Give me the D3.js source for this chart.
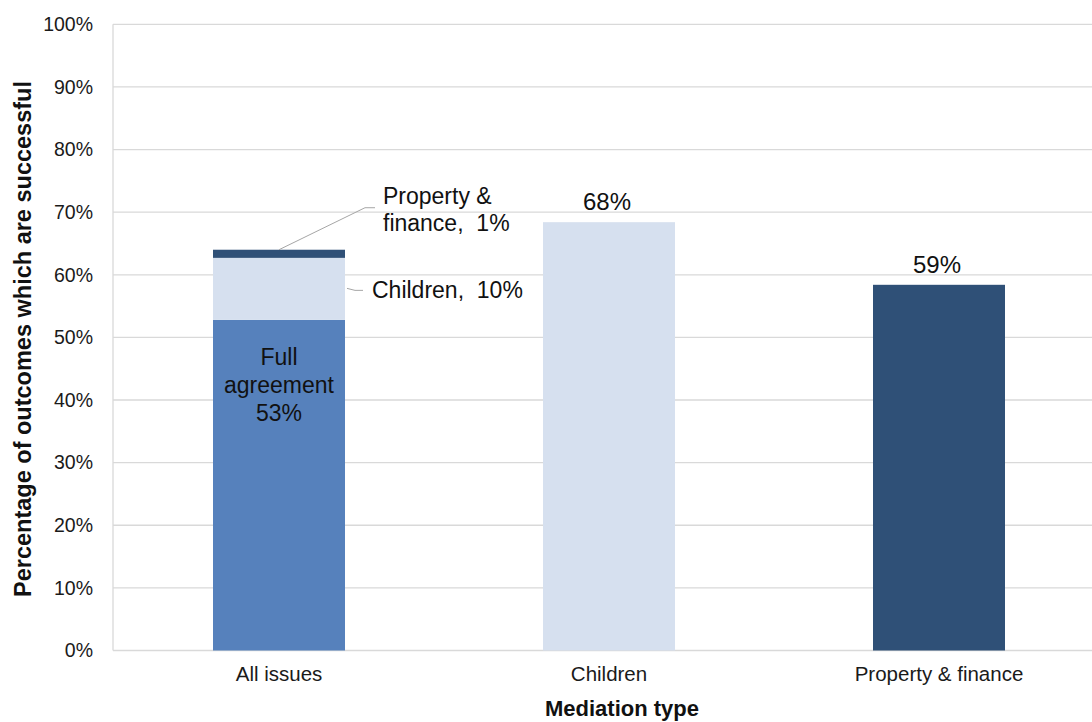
<!DOCTYPE html>
<html><head><meta charset="utf-8">
<script src="https://cdn.jsdelivr.net/npm/d3@7"></script>
<style>body{margin:0;background:#fff}svg{display:block;font-family:"Liberation Sans",Arial,sans-serif}text{white-space:pre}</style>
</head><body><svg id="c" width="1092" height="722"></svg>
<script>
const categories = ["All issues", "Children", "Property & finance"];
const seriesNames = ["Full agreement", "Children", "Property & finance"];
const fullAgreement = [52.8, 0, 0];
const childrenVals = [9.9, 68.4, 0];
const propertyVals = [1.3, 0, 58.4];
const seriesColors = ["#5681BC", "#D6E0EF", "#2F5077"];
const yTicks = [0,10,20,30,40,50,60,70,80,90,100];
const topLabels = ["", "68%", "59%"];
const stackLabels = [["Full", "agreement", "53%"], ["Children,  10%"], ["Property &", "finance,  1%"]];

const svg = d3.select("#c");
const m = {l:113, t:24.3, b:650.5};
const x = d3.scaleBand().domain(categories).range([m.l + 1, m.l + 991]).paddingInner(0.6).paddingOuter(0.3);
const y = d3.scaleLinear().domain([0,100]).range([m.b, m.t]);
const FONT = "Liberation Sans, Arial, sans-serif";

// gridlines
svg.append("g").selectAll("line").data(yTicks.slice(1)).join("line")
  .attr("x1", m.l).attr("x2", 1092).attr("y1", d=>y(d)).attr("y2", d=>y(d))
  .attr("stroke", "#d9d9d9").attr("stroke-width", 1.3);
svg.append("line").attr("x1", m.l).attr("x2", m.l).attr("y1", y(100)).attr("y2", y(0)).attr("stroke","#d9d9d9").attr("stroke-width",1.3);
svg.append("line").attr("x1", m.l).attr("x2", 1092).attr("y1", y(0)).attr("y2", y(0)).attr("stroke","#d9d9d9").attr("stroke-width",1.3);

// y tick labels
const yAxis = d3.axisLeft(y).tickValues(yTicks).tickFormat(d=>d+"%").tickSize(0).tickPadding(20);
const ga = svg.append("g").attr("transform", `translate(${m.l},0)`).call(yAxis);
ga.select(".domain").remove();
ga.selectAll("text").attr("font-size", 19.5).attr("fill", "#1a1a1a").attr("font-family", FONT);

// x tick labels
const xAxis = d3.axisBottom(x).tickSize(0).tickPadding(16);
const gx = svg.append("g").attr("transform", `translate(0,${m.b})`).call(xAxis);
gx.select(".domain").remove();
gx.selectAll("text").attr("font-size", 20.5).attr("fill", "#1a1a1a").attr("font-family", FONT);

// stacked bars
const rows = categories.map((c,i)=>({cat:c, "Full agreement":fullAgreement[i], "Children":childrenVals[i], "Property & finance":propertyVals[i]}));
const stack = d3.stack().keys(seriesNames)(rows);
svg.append("g").selectAll("g").data(stack).join("g").attr("fill", (d,i)=>seriesColors[i])
  .selectAll("rect").data(d=>d.filter(p=>p[1]-p[0]>0)).join("rect")
  .attr("x", d=>x(d.data.cat)).attr("width", x.bandwidth())
  .attr("y", d=>y(d[1])).attr("height", d=>y(d[0])-y(d[1]));

const fs = 23;
// top labels
categories.forEach((c,i)=>{
  if(!topLabels[i]) return;
  const tot = fullAgreement[i]+childrenVals[i]+propertyVals[i];
  svg.append("text").attr("x", x(c)+x.bandwidth()/2 - 2).attr("y", y(tot)-12)
    .attr("text-anchor","middle").attr("font-size", 24).attr("fill","#111").text(topLabels[i]);
});

// Full agreement label inside bar
const cx0 = x(categories[0]) + x.bandwidth()/2;
stackLabels[0].forEach((t,j)=>{
  svg.append("text").attr("x", cx0).attr("y", y(fullAgreement[0]) + 45 + j*28)
    .attr("text-anchor","middle").attr("font-size", fs).attr("fill","#111").text(t);
});
// Children label + leader
const childMid = y(fullAgreement[0] + childrenVals[0]/2);
const bx1 = x(categories[0]) + x.bandwidth();
svg.append("path").attr("d", `M${bx1+2},${childMid-0.5}L${bx1+10},${childMid+1.5}L${bx1+18},${childMid+1.5}`)
  .attr("fill","none").attr("stroke","#a6a6a6").attr("stroke-width",1);
svg.append("text").attr("x", bx1+27).attr("y", childMid+9.5).attr("font-size", fs).attr("fill","#111").text(stackLabels[1][0]);
// Property label + leader
const propTop = y(fullAgreement[0]+childrenVals[0]+propertyVals[0]);
svg.append("path").attr("d", `M${cx0},${propTop}L${cx0+86},${propTop-42}L${cx0+96},${propTop-42}`)
  .attr("fill","none").attr("stroke","#a6a6a6").attr("stroke-width",1);
stackLabels[2].forEach((t,j)=>{
  svg.append("text").attr("x", cx0+104).attr("y", propTop-46 + j*27).attr("font-size", fs).attr("fill","#111").text(t);
});

// axis titles
svg.append("text").attr("x", 622).attr("y", 716).attr("text-anchor","middle")
  .attr("font-size", 22).attr("font-weight","bold").attr("fill","#111").text("Mediation type");
svg.append("text").attr("transform", `translate(31,339) rotate(-90)`).attr("text-anchor","middle")
  .attr("font-size", 23.5).attr("font-weight","bold").attr("fill","#111").text("Percentage of outcomes which are successful");
</script></body></html>
